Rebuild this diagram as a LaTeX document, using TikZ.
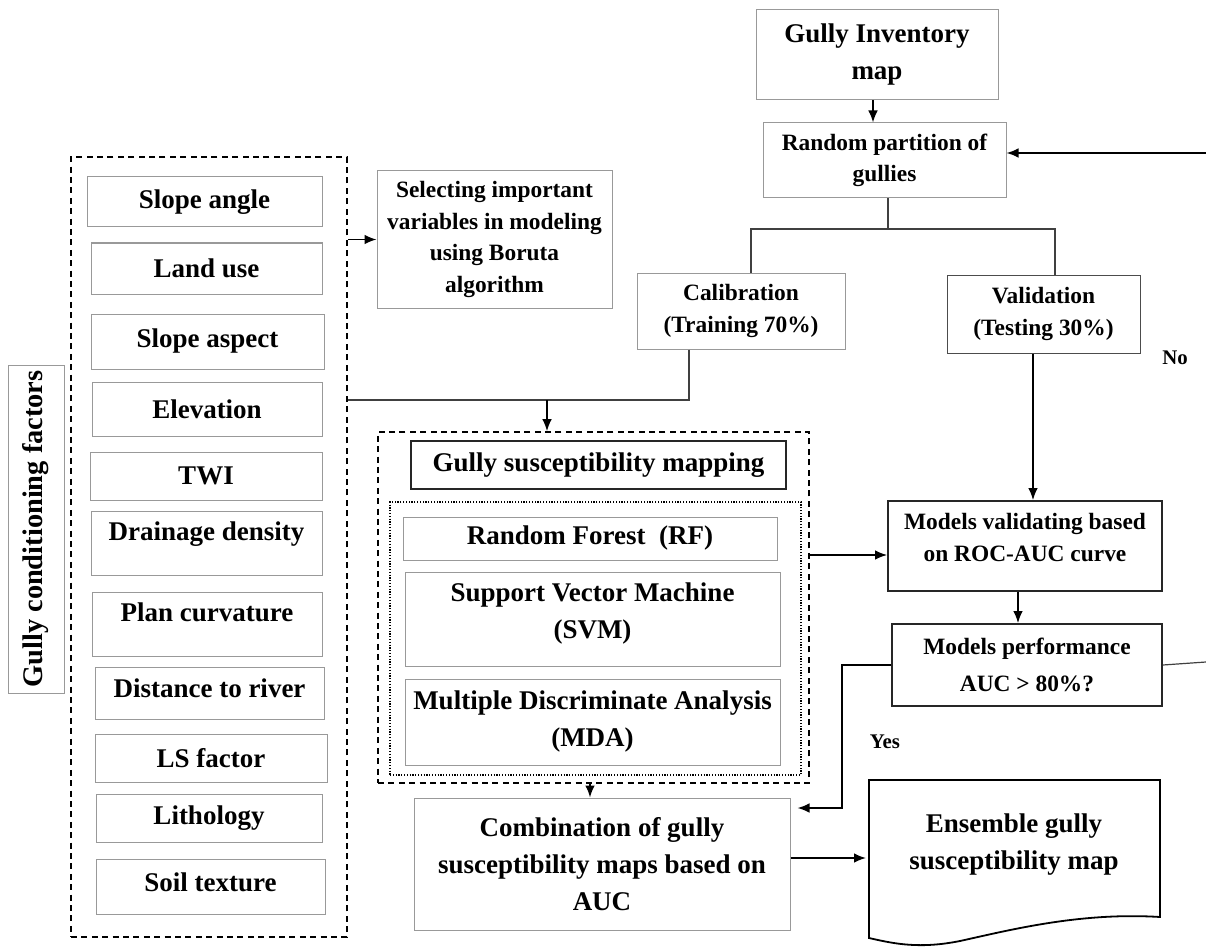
\documentclass[tikz,border=0pt]{standalone}
\usepackage{fontspec}
\setmainfont{Liberation Serif}
\usetikzlibrary{arrows.meta,fit}
\newcommand{\bigtxt}{\fontsize{13.5}{18.5}\selectfont\bfseries}
\newcommand{\smalltxt}{\fontsize{11.7}{15.8}\selectfont\bfseries}
\tikzset{
  box/.style={draw=gray!80, line width=0.5pt, inner sep=0pt, align=center, font=\bigtxt},
  sbox/.style={box, font=\smalltxt},
  sz/.style 2 args={minimum width=#1*0.5pt, minimum height=#2*0.5pt},
  heavy/.style={draw=black!85, line width=0.9pt},
  group/.style={draw, line width=0.8pt, inner sep=0pt, dash pattern=on 3pt off 2.2pt},
  line/.style={line width=0.6pt, draw=black!75},
  arr/.style={line width=0.8pt, -{Latex[length=6pt,width=4.8pt]}},
}
\begin{document}
\begin{tikzpicture}[x=0.5pt,y=-0.5pt]
\useasboundingbox (0,0) rectangle (1206,947);
% conditioning factors
\node[group, fit={(71,157) (347,937)}] (fac) {};
\node[box, rotate=90, minimum width=164pt, minimum height=28pt, font=\fontsize{14.2}{17}\selectfont\bfseries] (facl) at (36,529) {Gully conditioning factors};
\node[box, sz={235}{50}] (slope) at (204.5,202) {Slope angle};
\node[box, sz={231}{51}] (landuse) at (206.5,268.5) {Land use};
\node[box, sz={233}{55}] (aspect) at (207.5,341.5) {Slope aspect};
\node[box, sz={230}{54}] (elev) at (207,409) {Elevation};
\node[box, sz={232}{48}] (twi) at (206,476) {TWI};
\node[box, sz={231}{64}, text depth=12pt] (drain) at (206.5,543) {Drainage density};
\node[box, sz={230}{64}, text depth=12pt] (plan) at (207,624) {Plan curvature};
\node[box, sz={229}{52}, text depth=5pt] (river) at (209.5,693) {Distance to river};
\node[box, sz={232}{48}] (ls) at (211,758) {LS factor};
\node[box, sz={226}{48}] (litho) at (209,818) {Lithology};
\node[box, sz={229}{55}, text depth=4.5pt] (soil) at (210.5,886.5) {Soil texture};

\node[sbox, sz={235}{137}] (boruta) at (494.5,239.5) {Selecting important\\variables in modeling\\using Boruta\\algorithm};
\node[box, sz={242}{90}] (inv) at (877,55) {Gully Inventory\\map};
\node[sbox, sz={243}{75}] (part) at (884.5,160.5) {Random partition of\\gullies};
\node[sbox, sz={208}{76}] (calib) at (741,311) {Calibration\\(Training 70\%)};
\node[sbox, sz={193}{78}, draw=black!70] (valid) at (1043.5,314) {Validation\\(Testing 30\%)};

% modelling block
\node[group, fit={(378,432) (809,783)}] (gsm) {};
\node[box, heavy, sz={375}{48}] (gsmt) at (598.5,465) {Gully susceptibility mapping};
\node[draw, line width=0.8pt, dash pattern=on 0.6pt off 0.8pt, inner sep=0pt, fit={(390,502) (801,775)}] (algs) {};
\node[box, sz={374}{43}] (rf) at (590,538.5) {Random Forest~ (RF)};
\node[box, sz={375}{94}, text depth=8pt] (svm) at (592.5,619) {Support Vector Machine\\(SVM)};
\node[box, sz={375}{86}] (mda) at (592.5,722) {Multiple Discriminate Analysis\\(MDA)};
\node[box, sz={376}{132}] (comb) at (602,864) {Combination of gully\\susceptibility maps based on\\AUC};

\node[sbox, heavy, sz={274}{90}, text depth=8.5pt] (roc) at (1025,546) {Models validating based\\on ROC-AUC curve};
\node[sbox, heavy, sz={270}{82}] (perf) at (1027,665) {Models performance\\[3pt]AUC > 80\%?};
\node[font=\bigtxt, align=center] (ens) at (1014,845) {Ensemble gully\\susceptibility map};
\draw[line width=0.9pt] (869,780) -- (1160,780) -- (1160,917)
  .. controls (1080,912) and (1010,930) .. (960,941)
  .. controls (920,949) and (895,944) .. (869,938) -- cycle;

\node[font=\fontsize{10.4}{12}\selectfont\bfseries] (no) at (1175,358) {No};
\node[font=\fontsize{10.4}{12}\selectfont\bfseries] (yes) at (885,742) {Yes};

\coordinate (noin) at (1206,153);
\coordinate (sl) at (751,229);
\coordinate (sr) at (1055,229);
\coordinate (jn) at (689,400);
\coordinate (gin) at (547,400);
\coordinate (vx) at (1033,400);
\coordinate (rin) at (850,555);
\coordinate (px) at (1018,600);
\coordinate (yk) at (842,808);
\coordinate (noout) at (1206,662);
\coordinate (cx) at (590,790);
\coordinate (ein) at (866,858);

\draw[arr] ([xshift=-2pt]inv.south) -- ([xshift=-2pt]inv.south |- part.north);
\draw[arr] (noin) -- (noin -| part.east);
\draw[line] ([xshift=1.75pt]part.south) -- ([xshift=1.75pt]part.south |- sl);
\draw[line] (sl |- calib.north) -- (sl) -- (sr) -- (sr |- valid.north);
\draw[line] (jn |- calib.south) -- (jn) -- (jn -| fac.east);
\draw[arr] (gin) -- (gin |- gsm.north);
\draw[arr] (fac.east |- boruta.west) -- (boruta.west);
\draw[arr] (vx |- valid.south) -- (vx |- roc.north);
\draw[arr] (rin -| gsm.east) -- (rin -| roc.west);
\draw[arr] (px |- roc.south) -- (px |- perf.north);
\draw[arr] (perf.west) -- (perf.west -| yk) -- (yk) -- ([xshift=3.5pt]yk -| comb.east);
\draw[line] (perf.east) -- (noout);
\draw[arr] (cx |- gsm.south) -- (cx |- comb.north);
\draw[arr] (ein -| comb.east) -- (ein);
\end{tikzpicture}
\end{document}
